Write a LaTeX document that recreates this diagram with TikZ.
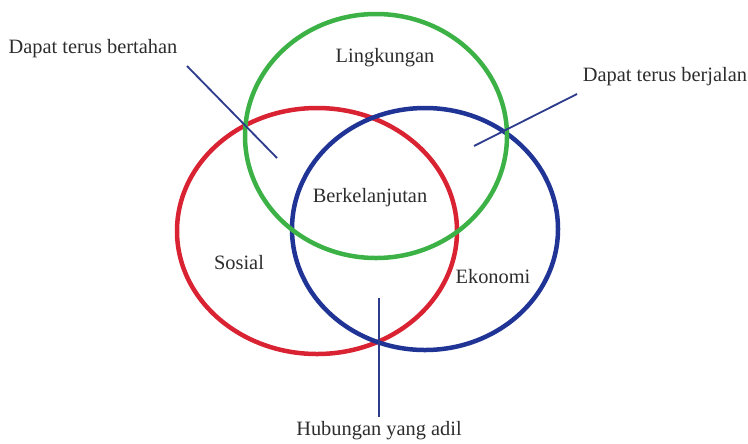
\documentclass[tikz,border=0pt]{standalone}
\usepackage{fontspec}
\setmainfont{Liberation Serif}
\usepackage{tikz}
\usepackage{xcolor}
\definecolor{venngreen}{RGB}{60,178,70}
\definecolor{vennred}{RGB}{218,35,50}
\definecolor{vennblue}{RGB}{32,52,150}
\definecolor{linkblue}{RGB}{45,60,140}
\definecolor{labelgray}{RGB}{45,45,45}
\tikzset{
    venn-ring/.style = {line width=3.2pt},
    venn-label/.style = {text=labelgray, font=\fontsize{14.5}{16}\selectfont, inner sep=1pt},
    link-line/.style = {draw=linkblue, line width=1.3pt},
}

\begin{document}
\begin{tikzpicture}[x=0.025cm, y=-0.025cm]
\useasboundingbox (0,0) rectangle (748,443);
\draw[venn-ring, vennred] (317,231) ellipse [x radius=140, y radius=123];
\draw[venn-ring, vennblue] (425,229) ellipse [x radius=133, y radius=121];
\draw[venn-ring, venngreen] (376,136) ellipse [x radius=131, y radius=122];

\node[venn-label] (lingkungan) at (385,58) {Lingkungan};
\node[venn-label] (berkelanjutan) at (370,198) {Berkelanjutan};
\node[venn-label] (sosial) at (239,263) {Sosial};
\node[venn-label] (ekonomi) at (493,277) {Ekonomi};
\node[venn-label] (bertahan) at (93,49) {Dapat terus bertahan};
\node[venn-label] (berjalan) at (665,77) {Dapat terus berjalan};
\node[venn-label] (adil) at (379,431) {Hubungan yang adil};

\coordinate (bertahan-end) at (187,66);
\coordinate (bertahan-tip) at (277,158);
\coordinate (berjalan-end) at (577,94);
\coordinate (berjalan-tip) at (474,146);
\coordinate (adil-end) at (379,417);
\coordinate (adil-tip) at (379,298);
\draw[link-line] (bertahan-end) -- (bertahan-tip);
\draw[link-line] (berjalan-end) -- (berjalan-tip);
\draw[link-line] (adil-end) -- (adil-tip);
\end{tikzpicture}
\end{document}
